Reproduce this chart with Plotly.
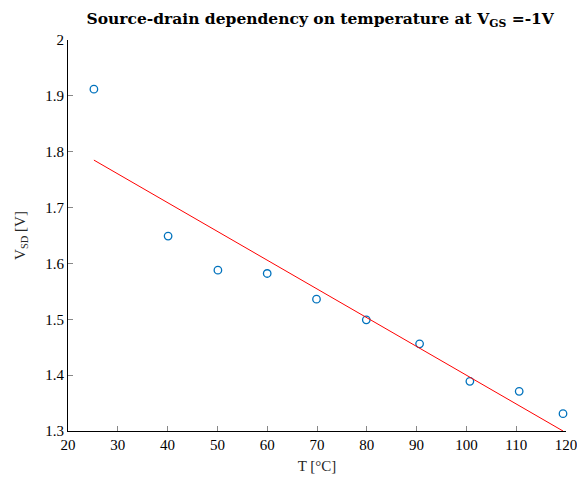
import plotly.graph_objects as go

temp_c = [25.2, 40.1, 50.1, 60.0, 69.9, 79.9, 90.6, 100.7, 110.6, 119.4]
vsd_v = [1.912, 1.649, 1.588, 1.582, 1.536, 1.499, 1.456, 1.389, 1.371, 1.331]
fit_t = [25.2, 119.4]
fit_v = [1.785, 1.300]

x_ticks = [20, 30, 40, 50, 60, 70, 80, 90, 100, 110, 120]
y_ticks = [1.3, 1.4, 1.5, 1.6, 1.7, 1.8, 1.9, 2.0]
y_tick_text = ["1.3", "1.4", "1.5", "1.6", "1.7", "1.8", "1.9", "2"]

font_family = "Liberation Serif"

fig = go.Figure()
fig.add_trace(go.Scatter(
    x=temp_c, y=vsd_v, mode="markers",
    marker=dict(symbol="circle-open", size=7.5, color="#0072BD", line=dict(width=1.3, color="#0072BD")),
    showlegend=False, cliponaxis=False,
))
fig.add_trace(go.Scatter(
    x=fit_t, y=fit_v, mode="lines",
    line=dict(color="#FF0000", width=1),
    showlegend=False, cliponaxis=False,
))

fig.update_layout(
    width=577, height=479,
    margin=dict(l=68, r=11, t=40, b=48, autoexpand=False),
    paper_bgcolor="white", plot_bgcolor="white",
    font=dict(family=font_family, size=15, color="#262626"),
    title=dict(
        text="<b>Source-drain dependency on temperature at V<sub>GS</sub> =-1V</b>",
        x=0.555, xanchor="center", y=0.962, yanchor="middle",
        font=dict(family="DejaVu Serif", size=15.5, color="#000000"),
    ),
    xaxis=dict(
        range=[19.999, 120.001], tickvals=x_ticks, ticks="inside", ticklen=5, tickcolor="#888888",
        ticklabeloverflow="allow", automargin=False,
        showline=True, linecolor="#000000", linewidth=1, mirror=False,
        showgrid=False, zeroline=False,
        title=dict(text="T [°C]", standoff=8, font=dict(size=15)),
        tickfont=dict(size=15, color="#000000"),
    ),
    yaxis=dict(
        range=[1.3, 2.0], tickvals=y_ticks, ticktext=y_tick_text, ticks="inside", ticklen=5, tickcolor="#888888",
        ticklabeloverflow="allow", automargin=False,
        showline=True, linecolor="#000000", linewidth=1, mirror=False,
        showgrid=False, zeroline=False,
        title=dict(text="V<sub>SD</sub> [V]", standoff=16, font=dict(size=15)),
        tickfont=dict(size=15, color="#000000"),
    ),
)

fig.write_html("out.html")
